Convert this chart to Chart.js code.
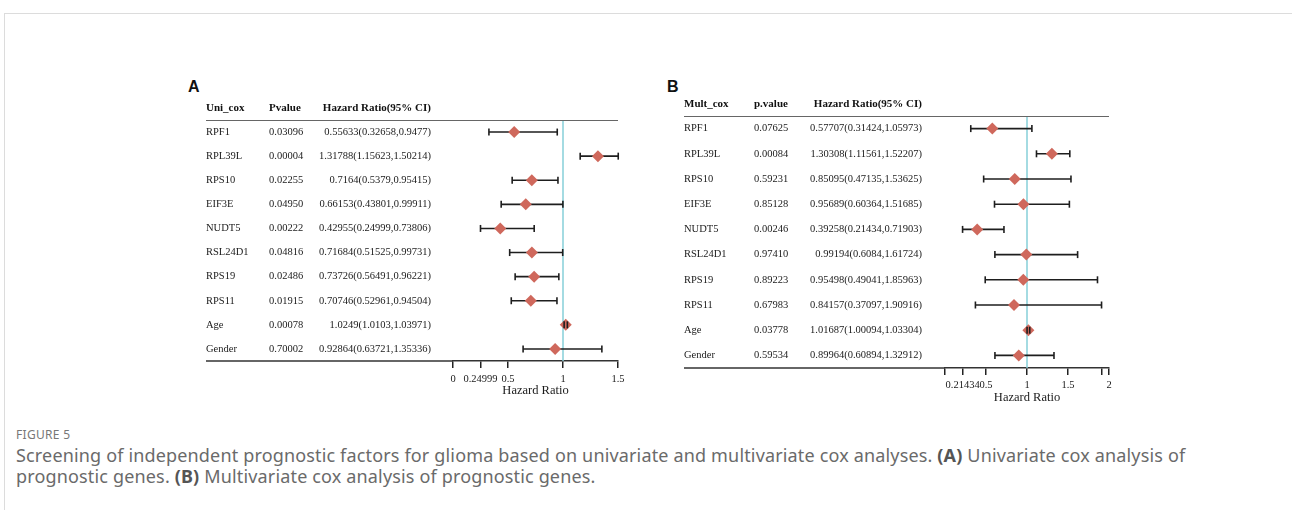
<!DOCTYPE html>
<html>
<head>
<meta charset="utf-8">
<script src="https://cdn.jsdelivr.net/npm/chart.js@4.4.0/dist/chart.umd.min.js"></script>
<style>
  body { margin: 0; background: #fff; width: 1292px; height: 510px; position: relative; overflow: hidden; }
  .frame { position: absolute; left: 4px; top: 13px; width: 1300px; height: 520px; border-top: 1px solid #dcdcdc; border-left: 1px solid #dcdcdc; }
  .panel { position: absolute; }
  .tag { position: absolute; font: bold 16px "Liberation Sans", Arial, sans-serif; color: #111; }
  .fig { position: absolute; left: 16px; top: 426px; font: 12px "Noto Sans", sans-serif; color: #777; letter-spacing: 0.3px; }
  .caption { position: absolute; left: 16px; top: 445px; width: 1215px; font: 18px/21px "Noto Sans", sans-serif; color: #6a6a6a; letter-spacing: 0.16px; }
  .caption b { color: #555; }
</style>
</head>
<body>
<div class="frame"></div>
<div class="tag" style="left:188px; top:78px;">A</div>
<div class="tag" style="left:667px; top:78px;">B</div>
<canvas id="uniChart" class="panel" style="left:170px; top:70px;" width="470" height="340"></canvas>
<canvas id="multChart" class="panel" style="left:660px; top:70px;" width="470" height="350"></canvas>
<div class="fig">FIGURE 5</div>
<div class="caption">Screening of independent prognostic factors for glioma based on univariate and multivariate cox analyses. <b>(A)</b> Univariate cox analysis of prognostic genes. <b>(B)</b> Multivariate cox analysis of prognostic genes.</div>

<script>
// row names (same for both panels)
const rowNames = ["RPF1", "RPL39L", "RPS10", "EIF3E", "NUDT5", "RSL24D1", "RPS19", "RPS11", "Age", "Gender"]

// univariate cox
const uniP = [0.03096, 0.00004, 0.02255, 0.04950, 0.00222, 0.04816, 0.02486, 0.01915, 0.00078, 0.70002]
const uniHR = [0.55633, 1.31788, 0.7164, 0.66153, 0.42955, 0.71684, 0.73726, 0.70746, 1.0249, 0.92864]
const uniLow = [0.32658, 1.15623, 0.5379, 0.43801, 0.24999, 0.51525, 0.56491, 0.52961, 1.0103, 0.63721]
const uniHigh = [0.9477, 1.50214, 0.95415, 0.99911, 0.73806, 0.99731, 0.96221, 0.94504, 1.03971, 1.35336]
const uniTicks = [0, 0.24999, 0.5, 1, 1.5]
const uniTickLabels = ["0", "0.24999", "0.5", "1", "1.5"]

// multivariate cox
const multP = [0.07625, 0.00084, 0.59231, 0.85128, 0.00246, 0.97410, 0.89223, 0.67983, 0.03778, 0.59534]
const multHR = [0.57707, 1.30308, 0.85095, 0.95689, 0.39258, 0.99194, 0.95498, 0.84157, 1.01687, 0.89964]
const multLow = [0.31424, 1.11561, 0.47135, 0.60364, 0.21434, 0.6084, 0.49041, 0.37097, 1.00094, 0.60894]
const multHigh = [1.05973, 1.52207, 1.53625, 1.51685, 0.71903, 1.61724, 1.85963, 1.90916, 1.03304, 1.32912]
const multTicks = [0, 0.21434, 0.5, 1, 1.5, 1.90916, 2]
const multTickLabels = ["", "0.21434", "0.5", "1", "1.5", "", "2"]

const serif = '"Liberation Serif", "Times New Roman", serif'

// CI bar ends, drawn on top of the diamonds
function drawCaps(chart) {
  const { ctx, scales } = chart
  const f = chart.options.plugins.forest
  ctx.save()
  ctx.strokeStyle = "#1e1e1e"
  ctx.lineWidth = 1.6
  f.low.forEach((lo, i) => {
    const py = scales.y.getPixelForValue(i)
    ;[lo, f.high[i]].forEach((v) => {
      const px = scales.x.getPixelForValue(v)
      ctx.beginPath()
      ctx.moveTo(px, py - 3.5)
      ctx.lineTo(px, py + 3.5)
      ctx.stroke()
    })
  })
  ctx.restore()
}

// draws the table, reference line and CI bars around the scatter points
const forestPlugin = {
  id: "forest",
  beforeDatasetsDraw(chart) {
    const { ctx, chartArea, scales } = chart
    const f = chart.options.plugins.forest
    const x = scales.x
    const y = scales.y

    // reference line at HR = 1
    const x1 = x.getPixelForValue(1)
    ctx.save()
    ctx.strokeStyle = "#86cfd8"
    ctx.lineWidth = 1.5
    ctx.beginPath()
    ctx.moveTo(x1, chartArea.top)
    ctx.lineTo(x1, chartArea.bottom)
    ctx.stroke()

    // confidence intervals
    ctx.strokeStyle = "#1e1e1e"
    ctx.lineWidth = 1.6
    f.low.forEach((lo, i) => {
      const py = y.getPixelForValue(i)
      ctx.beginPath()
      ctx.moveTo(x.getPixelForValue(lo), py)
      ctx.lineTo(x.getPixelForValue(f.high[i]), py)
      ctx.stroke()
    })
    ctx.restore()
  },
  afterDatasetsDraw(chart) {
    drawCaps(chart)
  },
  afterDraw(chart) {
    const { ctx, chartArea, scales } = chart
    const f = chart.options.plugins.forest
    const y = scales.y

    ctx.save()
    // rules
    ctx.strokeStyle = "#666"
    ctx.lineWidth = 1
    ctx.beginPath()
    ctx.moveTo(f.nameX, chartArea.top + 0.5)
    ctx.lineTo(chartArea.right, chartArea.top + 0.5)
    ctx.stroke()
    ctx.strokeStyle = "#333"
    ctx.lineWidth = 1.5
    ctx.beginPath()
    ctx.moveTo(f.nameX, chartArea.bottom)
    ctx.lineTo(chartArea.left, chartArea.bottom)
    ctx.stroke()

    // header
    ctx.fillStyle = "#111"
    ctx.textBaseline = "middle"
    ctx.font = "bold 11px " + serif
    const hy = chartArea.top - 12
    ctx.textAlign = "left"
    ctx.fillText(f.headers[0], f.nameX, hy)
    ctx.fillText(f.headers[1], f.pX, hy)
    ctx.textAlign = "right"
    ctx.fillText(f.headers[2], f.hrX, hy)

    // rows
    ctx.font = "10.5px " + serif
    ctx.fillStyle = "#1a1a1a"
    rowNames.forEach((name, i) => {
      const py = y.getPixelForValue(i)
      ctx.textAlign = "left"
      ctx.fillText(name, f.nameX, py)
      ctx.fillText(f.p[i].toFixed(5), f.pX, py)
      ctx.textAlign = "right"
      ctx.fillText(`${f.hr[i]}(${f.low[i]},${f.high[i]})`, f.hrX, py)
    })
    ctx.restore()
  },
}

function makeForest(id, opts) {
  const ctx = document.getElementById(id).getContext("2d")
  return new Chart(ctx, {
    type: "scatter",
    data: {
      datasets: [
        {
          data: opts.hr.map((v, i) => ({ x: v, y: i })),
          pointStyle: "rectRot",
          pointRadius: 6,
          pointBackgroundColor: "#cf685c",
          pointBorderWidth: 0,
        },
      ],
    },
    options: {
      responsive: false,
      animation: false,
      layout: { padding: opts.padding },
      plugins: {
        legend: { display: false },
        tooltip: { enabled: false },
        forest: opts,
      },
      scales: {
        x: {
          type: "linear",
          min: opts.min,
          max: opts.max,
          afterBuildTicks: (s) => {
            s.ticks = opts.ticks.map((v) => ({ value: v }))
          },
          afterFit: (s) => {
            s.height = 37
          },
          ticks: {
            autoSkip: false,
            maxRotation: 0,
            padding: opts.tickPad,
            color: "#1a1a1a",
            font: { family: serif, size: 10.5 },
            callback: (v, i) => opts.tickLabels[i],
          },
          grid: { drawOnChartArea: false, tickLength: 7, color: "#222", lineWidth: 1.5 },
          border: { color: "#333", width: 1.5 },
          title: {
            display: true,
            text: "Hazard Ratio",
            color: "#1a1a1a",
            font: { family: serif, size: 12.5 },
            padding: { top: 0, bottom: 0 },
          },
        },
        y: { type: "linear", min: -0.5, max: 9.5, reverse: true, display: false },
      },
    },
    plugins: [forestPlugin],
  })
}

makeForest("uniChart", {
  p: uniP, hr: uniHR, low: uniLow, high: uniHigh,
  ticks: uniTicks, tickLabels: uniTickLabels, min: 0, max: 1.5,
  headers: ["Uni_cox", "Pvalue", "Hazard Ratio(95% CI)"],
  nameX: 36, pX: 99, hrX: 261, tickPad: 5,
  padding: { left: 283, right: 22, top: 50, bottom: 12 },
})

makeForest("multChart", {
  p: multP, hr: multHR, low: multLow, high: multHigh,
  ticks: multTicks, tickLabels: multTickLabels, min: 0, max: 2,
  headers: ["Mult_cox", "p.value", "Hazard Ratio(95% CI)"],
  nameX: 24, pX: 94, hrX: 262, tickPad: 4,
  padding: { left: 285, right: 21, top: 46, bottom: 15 },
})
</script>
</body>
</html>
